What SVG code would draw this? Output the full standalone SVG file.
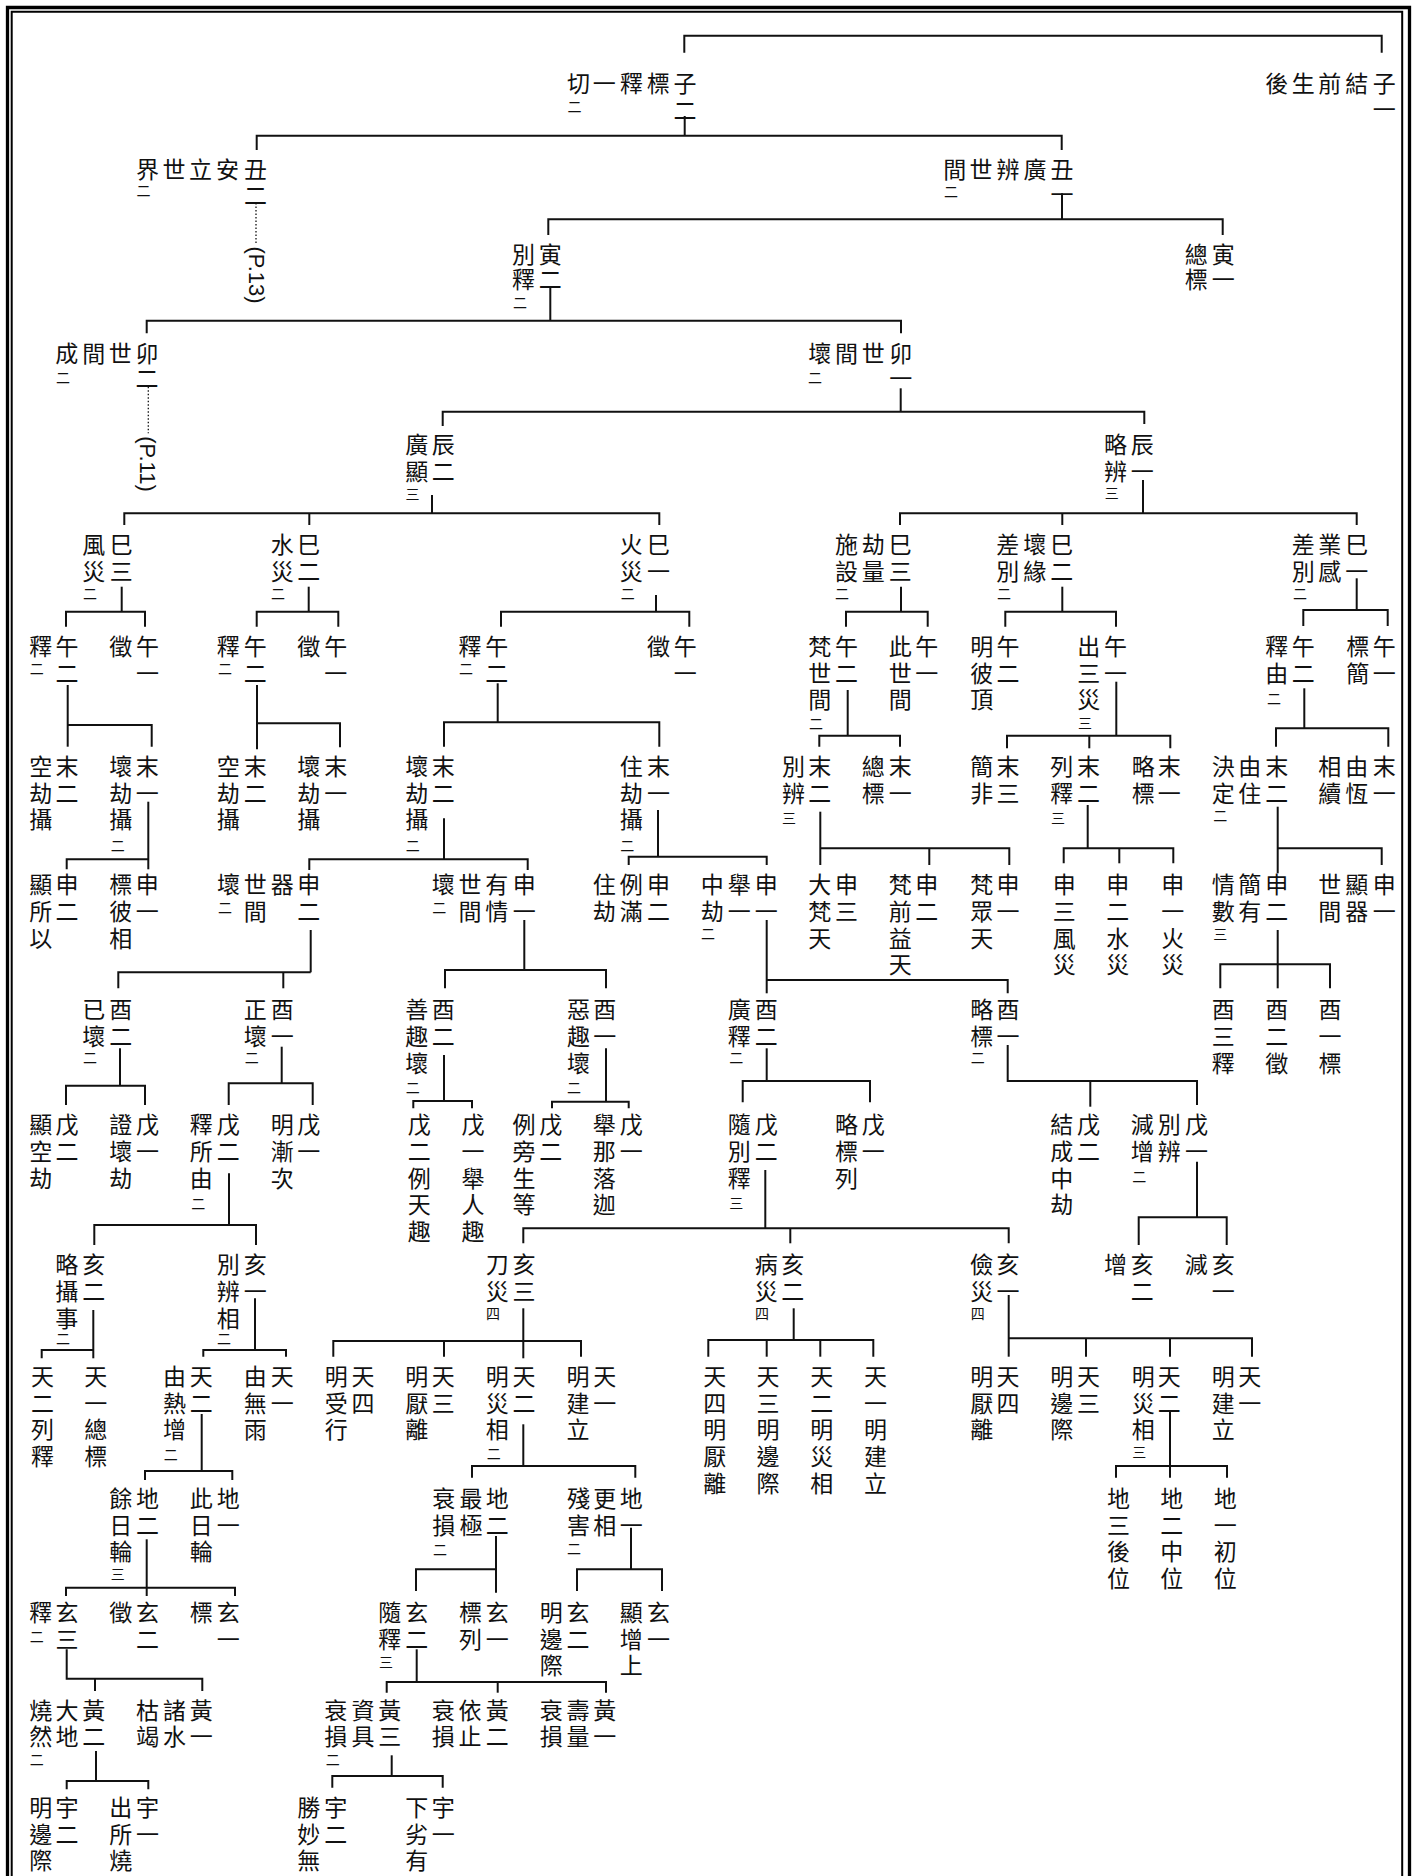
<svg xmlns="http://www.w3.org/2000/svg" width="1412" height="1876" viewBox="0 0 1412 1876">
<style>
text{font-family:"Noto Sans CJK TC","Noto Sans CJK SC",sans-serif;font-size:23px;text-anchor:middle;dominant-baseline:central;fill:#111}
text.s{font-size:14px}
text.p{font-family:"Liberation Sans",Arial,sans-serif;font-size:22px}
.c path{fill:none;stroke:#111;stroke-width:2}
.c path.d{stroke-width:1.3;stroke-dasharray:1.5 2}
.f path{fill:none;stroke:#000}
</style>
<rect width="1412" height="1876" fill="#fff"/>
<g class="f" id="frame">
<path d="M7.5,1876V7.5H1409.5V1876" stroke-width="3.3"/>
<path d="M11.7,1876V11.7H1402.2V1876" stroke-width="2"/>
</g>
<g id="connectors" class="c">
<path d="M684.3,52.7V35.7H1381.7V52.7"/>
<path d="M684.7,116V135.7"/>
<path d="M256.7,150V135.7H1061.7V150"/>
<path d="M1062,193.3V219.3"/>
<path d="M548.3,235V219.3H1222.7V235"/>
<path d="M550.3,288V320.7"/>
<path d="M146.7,333.3V320.7H901V333.3"/>
<path d="M900.7,388.3V411.7"/>
<path d="M442.7,426V411.7H1144.3V424"/>
<path d="M432,495V513.3"/>
<path d="M124.3,525V513.3H659.3V525"/>
<path d="M309.3,513.3V525"/>
<path d="M1143,480V513.3"/>
<path d="M900,525V513.3H1356.7V525"/>
<path d="M1062.3,513.3V525"/>
<path d="M121.7,586.7V611.7"/>
<path d="M66,626.7V611.7H145V626.7"/>
<path d="M308.7,586.7V611.7"/>
<path d="M256.7,626.7V611.7H338.3V626.7"/>
<path d="M656,595V611.7"/>
<path d="M501,626.7V611.7H689.3V626.7"/>
<path d="M901,586.7V611.7"/>
<path d="M846,626.7V611.7H927.7V626.7"/>
<path d="M1062.3,586.7V611.7"/>
<path d="M1005.3,626.7V611.7H1116V626.7"/>
<path d="M1356.7,578.3V610"/>
<path d="M1303.3,626V610H1387.7V626"/>
<path d="M67.7,685V746.7"/>
<path d="M67.7,725H151.7V746.7"/>
<path d="M257,685V749.3"/>
<path d="M257,723.3H340V747.3"/>
<path d="M497.7,683.3V722.3"/>
<path d="M444,746.7V722.3H659.3V746.7"/>
<path d="M847.7,690V735.7"/>
<path d="M819.3,746.7V735.7H900V746.7"/>
<path d="M1116.3,681.7V735.7"/>
<path d="M1007,748.3V735.7H1170.3V748.3"/>
<path d="M1089.3,735.7V748.3"/>
<path d="M1304.3,688.3V728.3"/>
<path d="M1276,746.7V728.3H1388.3V746.7"/>
<path d="M148.3,801.7V869.3"/>
<path d="M66.7,869.3V859.3H148.3"/>
<path d="M444,818.3V859.3"/>
<path d="M309.3,870V859.3H527.7V870"/>
<path d="M658,810V856.7"/>
<path d="M628.7,865V856.7H766.7V865"/>
<path d="M820.3,811.7V865"/>
<path d="M820.3,848.3H1009.3V865"/>
<path d="M929.3,848.3V865"/>
<path d="M1087.7,805V848.3"/>
<path d="M1063.7,863.3V848.3H1173.3V863.3"/>
<path d="M1119.3,848.3V863.3"/>
<path d="M1277.7,806.7V873.3"/>
<path d="M1277.7,848.3H1381.7V865"/>
<path d="M310.7,930V972.3"/>
<path d="M118.3,988.3V972.3H310.7"/>
<path d="M283.3,972.3V988.3"/>
<path d="M524.3,920V970"/>
<path d="M445,988.3V970H606V988.3"/>
<path d="M766.7,920V993.3"/>
<path d="M766.7,980H1007.7V993.3"/>
<path d="M1277.7,930V988.3"/>
<path d="M1220.3,988.3V964.3H1330V988.3"/>
<path d="M120,1048.3V1085.7"/>
<path d="M66,1105V1085.7H145V1105"/>
<path d="M281.7,1046.7V1083.3"/>
<path d="M228.7,1105V1083.3H312.7V1105"/>
<path d="M444,1055V1101"/>
<path d="M413.3,1108.3V1101H472V1108.3"/>
<path d="M606,1048.3V1101.7"/>
<path d="M552,1108.3V1101.7H628.7V1108.3"/>
<path d="M766.7,1048.3V1081"/>
<path d="M742.7,1102.3V1081H870V1102.3"/>
<path d="M1007.7,1045V1081H1197V1105"/>
<path d="M1090.3,1081V1106.7"/>
<path d="M229,1173.3V1225"/>
<path d="M94.3,1245V1225H256V1245"/>
<path d="M765.3,1170V1228.3"/>
<path d="M523.3,1243.3V1228.3H1008.7V1243.3"/>
<path d="M790.3,1228.3V1243.3"/>
<path d="M1197,1161.7V1217.3"/>
<path d="M1138.7,1245V1217.3H1226.7V1245"/>
<path d="M93.3,1310V1358.3"/>
<path d="M41.7,1358.3V1350H93.3"/>
<path d="M255,1298.3V1350"/>
<path d="M203.3,1356.7V1350H286V1356.7"/>
<path d="M523.3,1308.3V1358.3"/>
<path d="M333.3,1356.7V1341H581V1356.7"/>
<path d="M444,1341V1356.7"/>
<path d="M793.7,1308.3V1340"/>
<path d="M708.3,1356.7V1340H873.3V1356.7"/>
<path d="M766.7,1340V1356.7"/>
<path d="M820.3,1340V1356.7"/>
<path d="M1008.7,1295V1356.7"/>
<path d="M1008.7,1338.3H1252V1356.7"/>
<path d="M1086,1338.3V1356.7"/>
<path d="M1170,1338.3V1356.7"/>
<path d="M201.7,1414V1471"/>
<path d="M145,1480V1471H232.3V1480"/>
<path d="M523.3,1424.3V1466"/>
<path d="M472,1477.7V1466H635.3V1477.7"/>
<path d="M1170,1412V1477.7"/>
<path d="M1116,1477.7V1466H1227V1477.7"/>
<path d="M146.7,1539.3V1596"/>
<path d="M66,1596V1587.7H235V1596"/>
<path d="M496,1536V1592.7"/>
<path d="M416,1591V1569.3H496"/>
<path d="M631,1527.7V1569.3"/>
<path d="M577,1591V1569.3H662V1591"/>
<path d="M66.7,1649.3V1678.7H202.3V1691"/>
<path d="M95,1678.7V1691"/>
<path d="M416.7,1649.3V1682"/>
<path d="M386.7,1692.7V1682H606V1692.7"/>
<path d="M497.7,1682V1692.7"/>
<path d="M96,1751V1781"/>
<path d="M66.7,1789.3V1781H148.3V1789.3"/>
<path d="M391.7,1755.3V1776"/>
<path d="M332.3,1787.7V1776H442.7V1787.7"/>
<path class="d" d="M256,203V245"/>
<path class="d" d="M148.3,386.7V433.3"/>
</g>
<g id="n1"><text x="1276.8 1303.2 1329.8 1356.8 1384.3" y="82.3">後生前結子</text><text x="1384.3" y="108.3">一</text></g>
<g id="n2"><text x="578.5 604.3 631.5 658.3 685" y="82.3">切一釋標子</text><text class="s" x="574.5" y="106">二</text><text x="685" y="108.5">二</text></g>
<g id="n3"><text x="147.5 174 200.5 227.5 255.5" y="168">界世立安丑</text><text class="s" x="143.5" y="190">二</text><text x="255.5" y="193.5">二</text><text class="p" transform="translate(256,275) rotate(90)">(P.13)</text></g>
<g id="n4"><text x="954.7 981 1008 1035 1062" y="167.5">間世辨廣丑</text><text class="s" x="951" y="191">二</text><text x="1062" y="193.3">一</text></g>
<g id="n5"><text x="523.5 550.2" y="253.3">別寅</text><text x="523.5 550.2" y="278.3">釋二</text><text class="s" x="520" y="302">二</text></g>
<g id="n6"><text x="1196.3 1223.2" y="253.3">總寅</text><text x="1196.3 1223.2" y="278.3">標一</text></g>
<g id="n7"><text x="66.7 93.7 120.3 147" y="351.7">成間世卯</text><text class="s" x="63" y="376.7">二</text><text x="147" y="377">二</text><text class="p" transform="translate(147.5,464) rotate(90)">(P.11)</text></g>
<g id="n8"><text x="819.8 846.5 873.2 900.7" y="351.7">壞間世卯</text><text class="s" x="815" y="377">二</text><text x="900.7" y="376.7">一</text></g>
<g id="n9"><text x="416.7 443.3" y="443.3">廣辰</text><text x="416.7 443.3" y="469.5">顯二</text><text class="s" x="412.5" y="493">三</text></g>
<g id="n10"><text x="1115.5 1142.2" y="443.3">略辰</text><text x="1115.5 1142.2" y="469.5">辨一</text><text class="s" x="1111.7" y="492">三</text></g>
<g id="n11"><text x="93.7 121.2" y="543.3">風巳</text><text x="93.7 121.2" y="570">災三</text><text class="s" x="90" y="592.7">二</text></g>
<g id="n12"><text x="282.2 308.8" y="543.3">水巳</text><text x="282.2 308.8" y="570">災二</text><text class="s" x="278" y="592.7">二</text></g>
<g id="n13"><text x="631.3 658.5" y="543.3">火巳</text><text x="631.3 658.5" y="570">災一</text><text class="s" x="627.7" y="592.7">二</text></g>
<g id="n14"><text x="846.5 873.2 900.2" y="543.3">施劫巳</text><text x="846.5 873.2 900.2" y="570">設量三</text><text class="s" x="842" y="592.7">二</text></g>
<g id="n15"><text x="1007.7 1034.7 1061.8" y="543.3">差壞巳</text><text x="1007.7 1034.7 1061.8" y="570">別緣二</text><text class="s" x="1004" y="592.7">二</text></g>
<g id="n16"><text x="1303.2 1329.8 1356.8" y="543.3">差業巳</text><text x="1303.2 1329.8 1356.8" y="570">別感一</text><text class="s" x="1300" y="592.7">二</text></g>
<g id="n17"><text x="40.8 67" y="645">釋午</text><text class="s" x="36.7" y="668">二</text><text x="67" y="671.5">二</text></g>
<g id="n18"><text x="120.8 147.5" y="645">徵午</text><text x="147.5" y="671.5">一</text></g>
<g id="n19"><text x="228.3 255.3" y="645">釋午</text><text class="s" x="225" y="668">二</text><text x="255.3" y="671.5">二</text></g>
<g id="n20"><text x="308.8 335.8" y="645">徵午</text><text x="335.8" y="671.5">一</text></g>
<g id="n21"><text x="470 496.8" y="645">釋午</text><text class="s" x="466" y="668">二</text><text x="496.8" y="671.5">二</text></g>
<g id="n22"><text x="658.5 685.2" y="645">徵午</text><text x="685.2" y="671.5">一</text></g>
<g id="n23"><text x="819.8 846.5" y="645">梵午</text><text x="819.8 846.5" y="671.5">世二</text><text x="819.8" y="698.3">間</text><text class="s" x="816" y="723.3">二</text></g>
<g id="n24"><text x="900.2 926.8" y="645">此午</text><text x="900.2 926.8" y="671.5">世一</text><text x="900.2" y="698.3">間</text></g>
<g id="n25"><text x="981.8 1008" y="645">明午</text><text x="981.8 1008" y="671.5">彼二</text><text x="981.8" y="698.3">頂</text></g>
<g id="n26"><text x="1088.8 1115.5" y="645">出午</text><text x="1088.8 1115.5" y="671.5">三一</text><text x="1088.8" y="698.3">災</text><text class="s" x="1085" y="722.3">三</text></g>
<g id="n27"><text x="1276.8 1303.2" y="645">釋午</text><text x="1276.8 1303.2" y="671.5">由二</text><text class="s" x="1274" y="698.3">二</text></g>
<g id="n28"><text x="1357.7 1384.3" y="645">標午</text><text x="1357.7 1384.3" y="671.5">簡一</text></g>
<g id="n29"><text x="40.7 67" y="765">空末</text><text x="40.7 67" y="791.7">劫二</text><text x="40.7" y="818.4">攝</text></g>
<g id="n30"><text x="120.7 147.3" y="765">壞末</text><text x="120.7 147.3" y="791.7">劫一</text><text x="120.7" y="818.4">攝</text><text class="s" x="117.7" y="845">二</text></g>
<g id="n31"><text x="228.3 255.3" y="765">空末</text><text x="228.3 255.3" y="791.7">劫二</text><text x="228.3" y="818.4">攝</text></g>
<g id="n32"><text x="308.8 335.8" y="765">壞末</text><text x="308.8 335.8" y="791.7">劫一</text><text x="308.8" y="818.4">攝</text></g>
<g id="n33"><text x="416.7 443.3" y="765">壞末</text><text x="416.7 443.3" y="791.7">劫二</text><text x="416.7" y="818.4">攝</text><text class="s" x="412.7" y="845">二</text></g>
<g id="n34"><text x="631.3 658.5" y="765">住末</text><text x="631.3 658.5" y="791.7">劫一</text><text x="631.3" y="818.4">攝</text><text class="s" x="627.3" y="845">二</text></g>
<g id="n35"><text x="793.5 819.8" y="765">別末</text><text x="793.5 819.8" y="791.7">辨二</text><text class="s" x="789" y="816.7">三</text></g>
<g id="n36"><text x="873.2 900.2" y="765">總末</text><text x="873.2 900.2" y="791.7">標一</text></g>
<g id="n37"><text x="981.8 1008" y="765">簡末</text><text x="981.8 1008" y="791.7">非三</text></g>
<g id="n38"><text x="1061.8 1088.5" y="765">列末</text><text x="1061.8 1088.5" y="791.7">釋二</text><text class="s" x="1058" y="816.7">三</text></g>
<g id="n39"><text x="1143.2 1169.3" y="765">略末</text><text x="1143.2 1169.3" y="791.7">標一</text></g>
<g id="n40"><text x="1223.2 1249.8 1276.8" y="765">決由末</text><text x="1223.2 1249.8 1276.8" y="791.7">定住二</text><text class="s" x="1220.3" y="815">二</text></g>
<g id="n41"><text x="1329.8 1356.8 1384.3" y="765">相由末</text><text x="1329.8 1356.8 1384.3" y="791.7">續恆一</text></g>
<g id="n42"><text x="40.8 67" y="883.3">顯申</text><text x="40.8 67" y="910">所二</text><text x="40.8" y="936.7">以</text></g>
<g id="n43"><text x="120.8 147.3" y="883.3">標申</text><text x="120.8 147.3" y="910">彼一</text><text x="120.8" y="936.7">相</text></g>
<g id="n44"><text x="228.5 255.3 282.2 308.8" y="883.3">壞世器申</text><text class="s" x="225" y="906.7">二</text><text x="255.3 308.8" y="910">間二</text></g>
<g id="n45"><text x="443.3 470 496.8 524.3" y="883.3">壞世有申</text><text class="s" x="439.3" y="906.7">二</text><text x="470 496.8 524.3" y="910">間情一</text></g>
<g id="n46"><text x="604.3 631.3 658.5" y="883.3">住例申</text><text x="604.3 631.3 658.5" y="910">劫滿二</text></g>
<g id="n47"><text x="712.2 739.2 766.2" y="883.3">中舉申</text><text x="712.2 739.2 766.2" y="910">劫一一</text><text class="s" x="708" y="933">二</text></g>
<g id="n48"><text x="819.8 846.5" y="883.3">大申</text><text x="819.8 846.5" y="910">梵三</text><text x="819.8" y="936.7">天</text></g>
<g id="n49"><text x="900.2 926.8" y="883.3">梵申</text><text x="900.2 926.8" y="910">前二</text><text x="900.2 900.2" y="936.7 963.4">益天</text></g>
<g id="n50"><text x="981.8 1008" y="883.3">梵申</text><text x="981.8 1008" y="910">眾一</text><text x="981.8" y="936.7">天</text></g>
<g id="n51"><text x="1064.3 1064.3 1064.3 1064.3" y="883.3 910 936.7 963.4">申三風災</text></g>
<g id="n52"><text x="1117.7 1117.7 1117.7 1117.7" y="883.3 910 936.7 963.4">申二水災</text></g>
<g id="n53"><text x="1172.7 1172.7 1172.7 1172.7" y="883.3 910 936.7 963.4">申一火災</text></g>
<g id="n54"><text x="1223.2 1249.8 1276.8" y="883.3">情簡申</text><text x="1223.2 1249.8 1276.8" y="910">數有二</text><text class="s" x="1220.3" y="933.3">三</text></g>
<g id="n55"><text x="1329.8 1356.8 1384.3" y="883.3">世顯申</text><text x="1329.8 1356.8 1384.3" y="910">間器一</text></g>
<g id="n56"><text x="93.7 120.8" y="1008.3">已酉</text><text x="93.7 120.8" y="1035">壞二</text><text class="s" x="90" y="1056.7">二</text></g>
<g id="n57"><text x="255.3 282.2" y="1008.3">正酉</text><text x="255.3 282.2" y="1035">壞一</text><text class="s" x="251.7" y="1056.7">二</text></g>
<g id="n58"><text x="416.7 443.3" y="1008.3">善酉</text><text x="416.7 443.3" y="1035">趣二</text><text x="416.7" y="1061.7">壞</text><text class="s" x="412.7" y="1086.7">二</text></g>
<g id="n59"><text x="578.5 604.7" y="1008.3">惡酉</text><text x="578.5 604.7" y="1035">趣一</text><text x="578.5" y="1061.7">壞</text><text class="s" x="574" y="1086.7">二</text></g>
<g id="n60"><text x="739.2 766.2" y="1008.3">廣酉</text><text x="739.2 766.2" y="1035">釋二</text><text class="s" x="736.3" y="1056.7">二</text></g>
<g id="n61"><text x="981.8 1008" y="1008.3">略酉</text><text x="981.8 1008" y="1035">標一</text><text class="s" x="977.7" y="1056.7">二</text></g>
<g id="n62"><text x="1223.2 1223.2 1223.2" y="1008.3 1035 1061.7">酉三釋</text></g>
<g id="n63"><text x="1276.8 1276.8 1276.8" y="1008.3 1035 1061.7">酉二徵</text></g>
<g id="n64"><text x="1330 1330 1330" y="1008.3 1035 1061.7">酉一標</text></g>
<g id="n65"><text x="40.8 67" y="1123.3">顯戊</text><text x="40.8 67" y="1150">空二</text><text x="40.8" y="1176.7">劫</text></g>
<g id="n66"><text x="120.8 147.5" y="1123.3">證戊</text><text x="120.8 147.5" y="1150">壞一</text><text x="120.8" y="1176.7">劫</text></g>
<g id="n67"><text x="201.2 228.3" y="1123.3">釋戊</text><text x="201.2 228.3" y="1150">所二</text><text x="201.2" y="1176.7">由</text><text class="s" x="198.3" y="1203">二</text></g>
<g id="n68"><text x="282.2 308.8" y="1123.3">明戊</text><text x="282.2 308.8" y="1150">漸一</text><text x="282.2" y="1176.7">次</text></g>
<g id="n69"><text x="419.2 419.2 419.2 419.2 419.2" y="1123.3 1150 1176.7 1203.4 1230">戊二例天趣</text></g>
<g id="n70"><text x="473 473 473 473 473" y="1123.3 1150 1176.7 1203.4 1230">戊一舉人趣</text></g>
<g id="n71"><text x="524 550.7" y="1123.3">例戊</text><text x="524 550.7" y="1150">旁二</text><text x="524 524" y="1176.7 1203.4">生等</text></g>
<g id="n72"><text x="604.3 631.3" y="1123.3">舉戊</text><text x="604.3 631.3" y="1150">那一</text><text x="604.3 604.3" y="1176.7 1203.4">落迦</text></g>
<g id="n73"><text x="739.2 766.2" y="1123.3">隨戊</text><text x="739.2 766.2" y="1150">別二</text><text x="739.2" y="1176.7">釋</text><text class="s" x="736.3" y="1201.7">三</text></g>
<g id="n74"><text x="846.5 873.2" y="1123.3">略戊</text><text x="846.5 873.2" y="1150">標一</text><text x="846.5" y="1176.7">列</text></g>
<g id="n75"><text x="1061.8 1088.5" y="1123.3">結戊</text><text x="1061.8 1088.5" y="1150">成二</text><text x="1061.8 1061.8" y="1176.7 1203.4">中劫</text></g>
<g id="n76"><text x="1142.2 1169.3 1196.5" y="1123.3">減別戊</text><text x="1142.2 1169.3 1196.5" y="1150">增辨一</text><text class="s" x="1139.3" y="1176">二</text></g>
<g id="n77"><text x="66.7 93.7" y="1263.3">略亥</text><text x="66.7 93.7" y="1290">攝二</text><text x="66.7" y="1316.7">事</text><text class="s" x="63" y="1338">二</text></g>
<g id="n78"><text x="228.3 255.3" y="1263.3">別亥</text><text x="228.3 255.3" y="1290">辨一</text><text x="228.3" y="1316.7">相</text><text class="s" x="224" y="1338">二</text></g>
<g id="n79"><text x="497.3 524" y="1263.3">刀亥</text><text x="497.3 524" y="1290">災三</text><text class="s" x="493" y="1312.7">四</text></g>
<g id="n80"><text x="766.2 792.8" y="1263.3">病亥</text><text x="766.2 792.8" y="1290">災二</text><text class="s" x="762" y="1312.7">四</text></g>
<g id="n81"><text x="981.8 1008" y="1263.3">儉亥</text><text x="981.8 1008" y="1290">災一</text><text class="s" x="977.7" y="1312.7">四</text></g>
<g id="n82"><text x="1115.5 1142.2" y="1263.3">增亥</text><text x="1142.2" y="1290">二</text></g>
<g id="n83"><text x="1196.3 1223.2" y="1263.3">減亥</text><text x="1223.2" y="1290">一</text></g>
<g id="n84"><text x="42.5 42.5 42.5 42.5" y="1375 1401.7 1428.4 1455.1">天二列釋</text></g>
<g id="n85"><text x="95.8 95.8 95.8 95.8" y="1375 1401.7 1428.4 1455.1">天一總標</text></g>
<g id="n86"><text x="174.5 201.2" y="1375">由天</text><text x="174.5 201.2" y="1401.7">熱二</text><text x="174.5" y="1428.4">增</text><text class="s" x="170.7" y="1454">二</text></g>
<g id="n87"><text x="255.3 282.2" y="1375">由天</text><text x="255.3 282.2" y="1401.7">無一</text><text x="255.3" y="1428.4">雨</text></g>
<g id="n88"><text x="336.3 363" y="1375">明天</text><text x="336.3 363" y="1401.7">受四</text><text x="336.3" y="1428.4">行</text></g>
<g id="n89"><text x="416.7 443.3" y="1375">明天</text><text x="416.7 443.3" y="1401.7">厭三</text><text x="416.7" y="1428.4">離</text></g>
<g id="n90"><text x="497.3 524" y="1375">明天</text><text x="497.3 524" y="1401.7">災二</text><text x="497.3" y="1428.4">相</text><text class="s" x="493.7" y="1452.7">二</text></g>
<g id="n91"><text x="578 604.7" y="1375">明天</text><text x="578 604.7" y="1401.7">建一</text><text x="578" y="1428.4">立</text></g>
<g id="n92"><text x="714.7 714.7 714.7 714.7 714.7" y="1375 1401.7 1428.4 1455.1 1481.8">天四明厭離</text></g>
<g id="n93"><text x="768 768 768 768 768" y="1375 1401.7 1428.4 1455.1 1481.8">天三明邊際</text></g>
<g id="n94"><text x="821.8 821.8 821.8 821.8 821.8" y="1375 1401.7 1428.4 1455.1 1481.8">天二明災相</text></g>
<g id="n95"><text x="875.5 875.5 875.5 875.5 875.5" y="1375 1401.7 1428.4 1455.1 1481.8">天一明建立</text></g>
<g id="n96"><text x="981.8 1008" y="1375">明天</text><text x="981.8 1008" y="1401.7">厭四</text><text x="981.8" y="1428.4">離</text></g>
<g id="n97"><text x="1061.8 1088.5" y="1375">明天</text><text x="1061.8 1088.5" y="1401.7">邊三</text><text x="1061.8" y="1428.4">際</text></g>
<g id="n98"><text x="1143.2 1169.3" y="1375">明天</text><text x="1143.2 1169.3" y="1401.7">災二</text><text x="1143.2" y="1428.4">相</text><text class="s" x="1139.3" y="1451">三</text></g>
<g id="n99"><text x="1223.2 1249.8" y="1375">明天</text><text x="1223.2 1249.8" y="1401.7">建一</text><text x="1223.2" y="1428.4">立</text></g>
<g id="n100"><text x="120.8 147.5" y="1497">餘地</text><text x="120.8 147.5" y="1523.5">日二</text><text x="120.8" y="1550">輪</text><text class="s" x="117.7" y="1572.7">三</text></g>
<g id="n101"><text x="201.2 228.3" y="1497">此地</text><text x="201.2 228.3" y="1523.5">日一</text><text x="201.2" y="1550">輪</text></g>
<g id="n102"><text x="443.7 471 497.3" y="1497">衰最地</text><text x="443.7 471 497.3" y="1523.5">損極二</text><text class="s" x="440" y="1549.3">二</text></g>
<g id="n103"><text x="578.5 604.7 631.3" y="1497">殘更地</text><text x="578.5 604.7 631.3" y="1523.5">害相一</text><text class="s" x="574" y="1547.7">二</text></g>
<g id="n104"><text x="1118.5 1118.5 1118.5 1118.5" y="1497 1523.5 1550 1576.7">地三後位</text></g>
<g id="n105"><text x="1171.8 1171.8 1171.8 1171.8" y="1497 1523.5 1550 1576.7">地二中位</text></g>
<g id="n106"><text x="1225.2 1225.2 1225.2 1225.2" y="1497 1523.5 1550 1576.7">地一初位</text></g>
<g id="n107"><text x="40.8 67" y="1611">釋玄</text><text class="s" x="36.7" y="1636">二</text><text x="67" y="1637.5">三</text></g>
<g id="n108"><text x="120.8 147.5" y="1611">徵玄</text><text x="147.5" y="1637.5">二</text></g>
<g id="n109"><text x="201.2 228.3" y="1611">標玄</text><text x="228.3" y="1637.5">一</text></g>
<g id="n110"><text x="389.7 416.7" y="1611">隨玄</text><text x="389.7 416.7" y="1637.5">釋二</text><text class="s" x="386" y="1661">三</text></g>
<g id="n111"><text x="470.6 497.3" y="1611">標玄</text><text x="470.6 497.3" y="1637.5">列一</text></g>
<g id="n112"><text x="551.3 578" y="1611">明玄</text><text x="551.3 578" y="1637.5">邊二</text><text x="551.3" y="1664">際</text></g>
<g id="n113"><text x="631.3 658.5" y="1611">顯玄</text><text x="631.3 658.5" y="1637.5">增一</text><text x="631.3" y="1664">上</text></g>
<g id="n114"><text x="40.8 67 93.7" y="1709.3">燒大黃</text><text x="40.8 67 93.7" y="1735">然地二</text><text class="s" x="36.7" y="1759.3">二</text></g>
<g id="n115"><text x="147.5 174.5 201.2" y="1709.3">枯諸黃</text><text x="147.5 174.5 201.2" y="1735">竭水一</text></g>
<g id="n116"><text x="335.8 363 389.7" y="1709.3">衰資黃</text><text x="335.8 363 389.7" y="1735">損具三</text><text class="s" x="332.7" y="1759.3">二</text></g>
<g id="n117"><text x="443.3 470 497.3" y="1709.3">衰依黃</text><text x="443.3 470 497.3" y="1735">損止二</text></g>
<g id="n118"><text x="551.3 578 604.7" y="1709.3">衰壽黃</text><text x="551.3 578 604.7" y="1735">損量一</text></g>
<g id="n119"><text x="40.8 67" y="1806">明宇</text><text x="40.8 67" y="1832.5">邊二</text><text x="40.8" y="1859">際</text></g>
<g id="n120"><text x="120.8 147.5" y="1806">出宇</text><text x="120.8 147.5" y="1832.5">所一</text><text x="120.8" y="1859">燒</text></g>
<g id="n121"><text x="308.8 335.8" y="1806">勝宇</text><text x="308.8 335.8" y="1832.5">妙二</text><text x="308.8" y="1859">無</text></g>
<g id="n122"><text x="416.7 443.3" y="1806">下宇</text><text x="416.7 443.3" y="1832.5">劣一</text><text x="416.7" y="1859">有</text></g>
</svg>
